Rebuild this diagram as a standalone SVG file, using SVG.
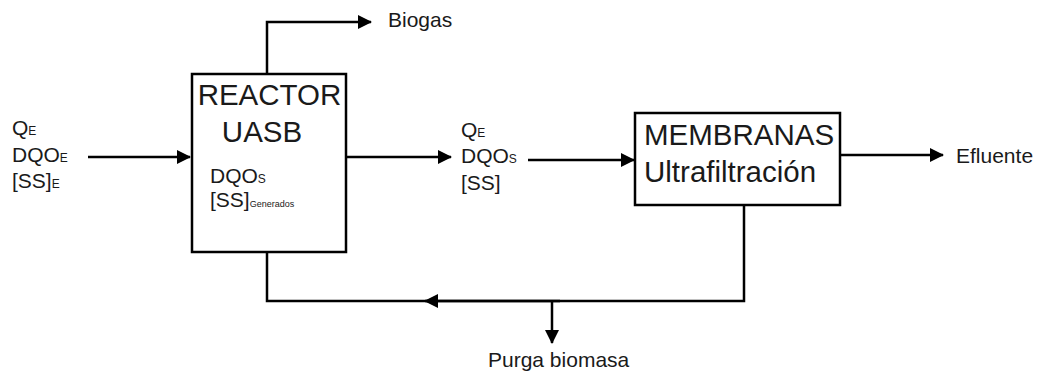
<svg xmlns="http://www.w3.org/2000/svg" width="1042" height="372" viewBox="0 0 1042 372">
<style>
.box{fill:#fff;stroke:#000;stroke-width:2.5}
.ln{fill:none;stroke:#000;stroke-width:2.5}
.t{font-family:"Liberation Sans",Arial,sans-serif;fill:#1a1a1a}
.lb{font-size:21px}
.tt{font-size:29.5px}
.sb{font-size:12px}
.sg{font-size:9px}
</style>
<defs>
<marker id="ah" markerWidth="14" markerHeight="14" refX="13" refY="7" orient="auto" markerUnits="userSpaceOnUse">
<path d="M0,0 L14,7 L0,14 Z" fill="#000"/>
</marker>
</defs>
<g id="connectors">
<path class="ln" d="M88,157 L190,157" marker-end="url(#ah)"/>
<path class="ln" d="M267,74 L267,22 L371,22" marker-end="url(#ah)"/>
<path class="ln" d="M346,157 L451,157" marker-end="url(#ah)"/>
<path class="ln" d="M528,160 L634,160" marker-end="url(#ah)"/>
<path class="ln" d="M840,155 L943,155" marker-end="url(#ah)"/>
<path class="ln" d="M267,252 L267,301 L744,301 L744,205"/>
<path class="ln" d="M560,301 L425,301" marker-end="url(#ah)"/>
<path class="ln" d="M552,301 L552,343" marker-end="url(#ah)"/>
</g>
<g id="reactor">
<rect class="box" x="192" y="74" width="154" height="178"/>
<text class="t tt" x="269.5" y="105" text-anchor="middle">REACTOR</text>
<text class="t tt" x="262" y="142" text-anchor="middle">UASB</text>
<text class="t lb" x="210" y="183">DQO<tspan class="sb">S</tspan></text>
<text class="t lb" x="210" y="207">[SS]<tspan class="sg">Generados</tspan></text>
</g>
<g id="membranas">
<rect class="box" x="635" y="113" width="205" height="92"/>
<text class="t tt" x="644" y="145">MEMBRANAS</text>
<text class="t tt" x="644" y="182">Ultrafiltración</text>
</g>
<g id="input-label">
<text class="t lb" x="12" y="135">Q<tspan class="sb">E</tspan></text>
<text class="t lb" x="12" y="162">DQO<tspan class="sb">E</tspan></text>
<text class="t lb" x="12" y="188">[SS]<tspan class="sb">E</tspan></text>
</g>
<g id="mid-label">
<text class="t lb" x="461" y="137">Q<tspan class="sb">E</tspan></text>
<text class="t lb" x="461" y="163">DQO<tspan class="sb">S</tspan></text>
<text class="t lb" x="461" y="190">[SS]</text>
</g>
<g id="biogas"><text class="t lb" x="388" y="27">Biogas</text></g>
<g id="efluente"><text class="t lb" x="956" y="163">Efluente</text></g>
<g id="purga"><text class="t lb" x="488" y="367">Purga biomasa</text></g>
</svg>
